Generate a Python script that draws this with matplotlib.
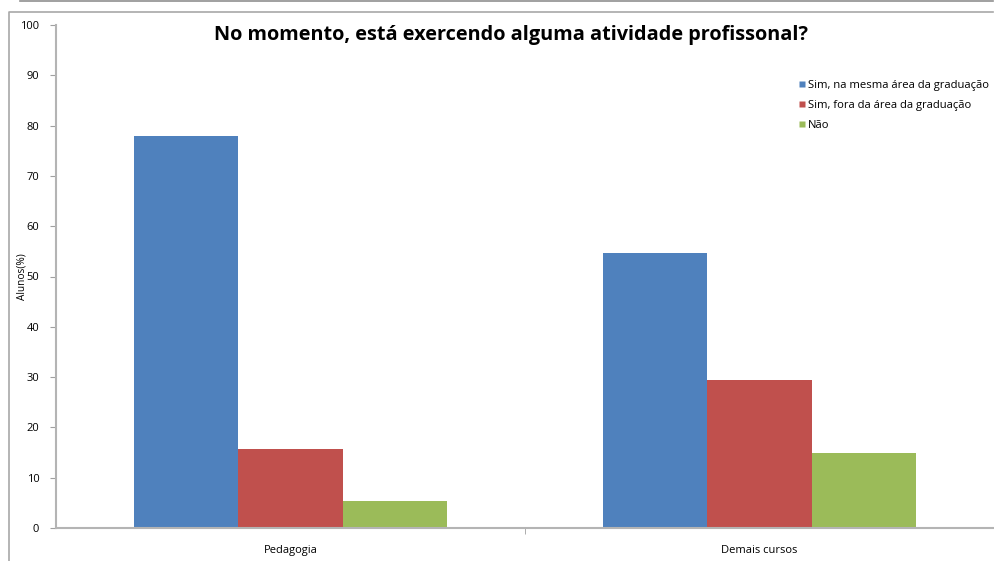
import matplotlib.pyplot as plt
import numpy as np
from matplotlib.lines import Line2D

# categories and series values (percent of students)
categorias = ['Pedagogia', 'Demais cursos']
series = ['Sim, na mesma área da graduação', 'Sim, fora da área da graduação', 'Não']
sim_mesma_area = [78, 54.7]
sim_fora_area = [15.7, 29.4]
nao = [5.4, 14.9]
cores = ['#4f81bd', '#c0504d', '#9bbb59']

plt.rcParams['font.family'] = ['Open Sans', 'DejaVu Sans']

fig = plt.figure(figsize=(9.94, 5.61), dpi=100)
ax = fig.add_axes([56 / 994, 33 / 561, 1 - 56 / 994, 503 / 561])

x = np.arange(len(categorias))
w = 0.222
for i, (vals, cor, nome) in enumerate(zip([sim_mesma_area, sim_fora_area, nao], cores, series)):
    ax.bar(x + (i - 1) * w, vals, width=w, color=cor, label=nome, edgecolor='none')

ax.set_xlim(-0.5, 1.5)
ax.set_ylim(0, 100)
ax.set_yticks(range(0, 101, 10))
ax.set_xticks(x)
ax.set_xticklabels(categorias, fontsize=8)
# tick mark between the categories, labels centred
ax.set_xticks([0.5], minor=True)
ax.tick_params(axis='x', which='major', length=0, pad=12)
ax.tick_params(axis='x', which='minor', length=4, color='#a0a0a0')
ax.tick_params(axis='y', length=4, color='#a0a0a0', labelsize=8, pad=8)
for s in ['top', 'right']:
    ax.spines[s].set_visible(False)
for s in ['left', 'bottom']:
    ax.spines[s].set_color('#b4b4b4')
    ax.spines[s].set_linewidth(1.5)

ax.set_ylabel('Alunos(%)', fontsize=7.3, labelpad=-5)
fig.text(511 / 994, 1 - 35 / 561, 'No momento, está exercendo alguma atividade profissonal?',
         fontsize=14.3, fontweight='bold', ha='center', va='center')

handles = [Line2D([], [], marker='s', linestyle='none', markersize=5,
                  markerfacecolor=c, markeredgecolor='none') for c in cores]
ax.legend(handles, series, loc='upper left', bbox_to_anchor=(0.778, 0.91),
          frameon=False, fontsize=8.1, handletextpad=0.05, labelspacing=0.8,
          handlelength=1.0)

# outer frame lines of the screenshot
fig.add_artist(Line2D([20 / 994, 993 / 994], [1 - 1 / 561, 1 - 1 / 561],
                      transform=fig.transFigure, color='#909090', lw=1.2))
fig.add_artist(Line2D([9 / 994, 9 / 994, 993 / 994], [0, 1 - 12 / 561, 1 - 12 / 561],
                      transform=fig.transFigure, color='#a8a8a8', lw=1.2))

fig.savefig('out.png', dpi=100)
